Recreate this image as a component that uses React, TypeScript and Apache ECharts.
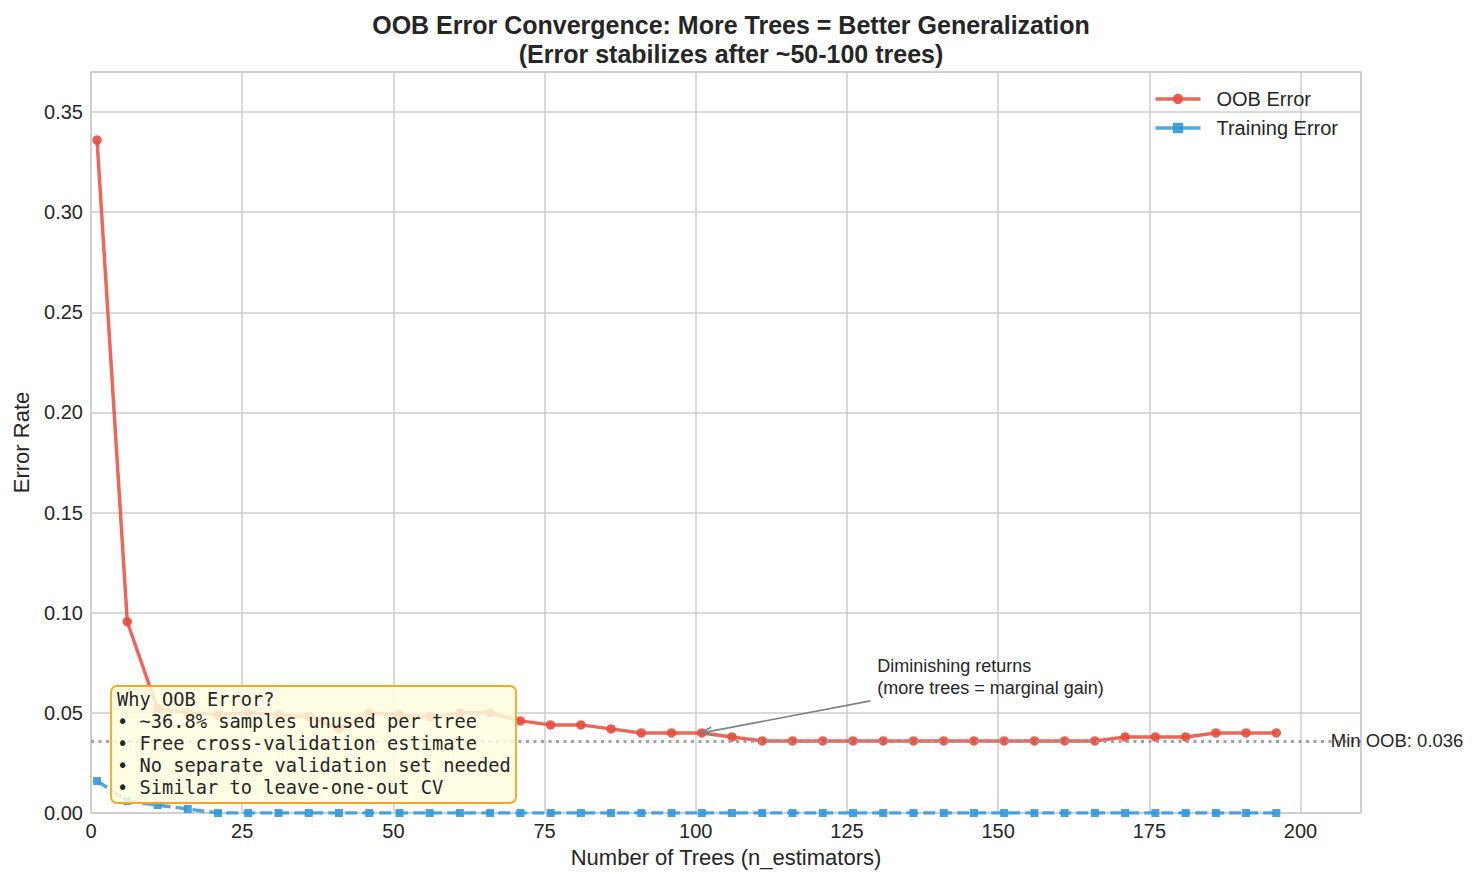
import React, { useEffect, useRef } from "react";
import * as echarts from "echarts";

const treeCounts: number[] = [
  1, 6, 11, 16, 21, 26, 31, 36, 41, 46, 51, 56, 61, 66, 71, 76, 81, 86, 91, 96,
  101, 106, 111, 116, 121, 126, 131, 136, 141, 146, 151, 156, 161, 166, 171, 176, 181, 186, 191, 196,
];
const oobError: number[] = [
  0.336, 0.0955, 0.052, 0.05, 0.049, 0.05, 0.049, 0.048, 0.042, 0.05, 0.049, 0.048, 0.05, 0.05, 0.046,
  0.044, 0.044, 0.042, 0.04, 0.04, 0.04, 0.038, 0.036, 0.036, 0.036, 0.036, 0.036, 0.036, 0.036, 0.036,
  0.036, 0.036, 0.036, 0.036, 0.038, 0.038, 0.038, 0.04, 0.04, 0.04,
];
const trainError: number[] = [
  0.016, 0.006, 0.004, 0.002, 0, 0, 0, 0, 0, 0, 0, 0, 0, 0, 0, 0, 0, 0, 0, 0,
  0, 0, 0, 0, 0, 0, 0, 0, 0, 0, 0, 0, 0, 0, 0, 0, 0, 0, 0, 0,
];
const minOob = 0.036;
const xMin = 0;
const xMax = 210;
const titleLines: string[] = [
  "OOB Error Convergence: More Trees = Better Generalization",
  "(Error stabilizes after ~50-100 trees)",
];
const boxLines: string[] = [
  "Why OOB Error?",
  "• ~36.8% samples unused per tree",
  "• Free cross-validation estimate",
  "• No separate validation set needed",
  "• Similar to leave-one-out CV",
];
const annotText = "Diminishing returns\n(more trees = marginal gain)";
const annotXY: [number, number] = [101, 0.04];
const annotTail: [number, number] = [128.9, 0.056];
const annotTextPos: [number, number] = [130, 0.0678];

const SANS = "'Liberation Sans', Arial, Helvetica, sans-serif";
const MONO = "'DejaVu Sans Mono', monospace";
const INK = "#262626";
const GRIDC = "#cccccc";

export default function App() {
  const ref = useRef<HTMLDivElement>(null);
  useEffect(() => {
    if (!ref.current) return;
    const chart = echarts.init(ref.current, undefined, { renderer: "svg" });
    const oobPts = treeCounts.map((x, i) => [x, oobError[i]]);
    const trPts = treeCounts.map((x, i) => [x, trainError[i]]);
    chart.setOption({
      animation: false,
      backgroundColor: "#ffffff",
      title: {
        text: titleLines.join("\n"),
        left: 726,
        top: 5,
        textAlign: "center",
        textStyle: { fontFamily: SANS, fontSize: 25, fontWeight: "bold", color: INK, lineHeight: 29 },
      },
      grid: {
        left: 91,
        right: 120,
        top: 72,
        bottom: 70,
        show: true,
        borderColor: GRIDC,
        borderWidth: 1.5,
        backgroundColor: "transparent",
      },
      legend: {
        orient: "vertical",
        right: 138,
        top: 84,
        itemGap: 9,
        itemWidth: 45,
        itemHeight: 13,
        lineStyle: { width: 3.5, type: "solid" },
        textStyle: { fontFamily: SANS, fontSize: 20, color: INK, padding: [0, 0, 0, 11] },
        data: ["OOB Error", "Training Error"],
      },
      xAxis: {
        type: "value",
        min: xMin,
        max: xMax,
        interval: 25,
        name: "Number of Trees (n_estimators)",
        nameLocation: "middle",
        nameGap: 33,
        nameTextStyle: { fontFamily: SANS, fontSize: 22, color: INK },
        axisLine: { show: false },
        axisTick: { show: false },
        axisLabel: { fontFamily: SANS, fontSize: 20, color: INK, margin: 8, showMaxLabel: false },
        splitLine: { show: true, lineStyle: { color: GRIDC, width: 1.5 } },
      },
      yAxis: {
        type: "value",
        min: 0,
        max: 0.37,
        interval: 0.05,
        name: "Error Rate",
        nameLocation: "middle",
        nameGap: 59,
        nameTextStyle: { fontFamily: SANS, fontSize: 22, color: INK },
        axisLine: { show: false },
        axisTick: { show: false },
        axisLabel: {
          fontFamily: SANS,
          fontSize: 20,
          color: INK,
          margin: 8,
          showMaxLabel: false,
          formatter: (v: number) => v.toFixed(2),
        },
        splitLine: { show: true, lineStyle: { color: GRIDC, width: 1.5 } },
      },
      series: [
        {
          name: "OOB Error",
          type: "line",
          data: oobPts,
          symbol: "circle",
          symbolSize: 9.5,
          color: "#e74c3c",
          lineStyle: { width: 3.5, opacity: 0.85, color: "#e74c3c" },
          itemStyle: { color: "#e74c3c", opacity: 0.9 },
          z: 3,
          markLine: {
            silent: true,
            symbol: ["none", "none"],
            label: { show: false },
            lineStyle: { type: [3, 4.5], color: "#999999", width: 2.8, opacity: 0.9 },
            data: [[{ coord: [xMin, minOob] }, { coord: [xMax, minOob] }]],
            z: 5,
          },
        },
        {
          name: "Training Error",
          type: "line",
          data: trPts,
          symbol: "rect",
          symbolSize: 8,
          color: "#3498db",
          lineStyle: { width: 3.5, type: [12, 5], opacity: 0.85, color: "#3498db" },
          itemStyle: { color: "#3498db", opacity: 0.9 },
          z: 2,
        },
      ],
    });

    const px = (p: [number, number]) => chart.convertToPixel({ gridIndex: 0 }, p) as number[];
    const head = px(annotXY);
    const tail = px(annotTail);
    const tp = px(annotTextPos);
    const minPos = px([205, minOob]);
    const ang = Math.atan2(tail[1] - head[1], tail[0] - head[0]);
    const hl = 11;
    const spread = 0.38;
    const w1 = [head[0] + hl * Math.cos(ang + spread), head[1] + hl * Math.sin(ang + spread)];
    const w2 = [head[0] + hl * Math.cos(ang - spread), head[1] + hl * Math.sin(ang - spread)];

    chart.setOption({
      graphic: [
        {
          type: "line",
          shape: { x1: tail[0], y1: tail[1], x2: head[0], y2: head[1] },
          style: { stroke: "#808080", lineWidth: 1.6 },
          z: 20,
        },
        {
          type: "polyline",
          shape: { points: [w1, head, w2] },
          style: { stroke: "#808080", lineWidth: 1.6, fill: "none" },
          z: 20,
        },
        {
          type: "text",
          x: tp[0],
          y: tp[1],
          style: {
            text: annotText,
            fontFamily: SANS,
            fontSize: 18,
            lineHeight: 22,
            fill: INK,
            textAlign: "left",
            textVerticalAlign: "middle",
          },
          z: 20,
        },
        {
          type: "text",
          x: minPos[0],
          y: minPos[1],
          style: {
            text: "Min OOB: 0.036",
            fontFamily: SANS,
            fontSize: 18.5,
            fill: INK,
            textAlign: "left",
            textVerticalAlign: "middle",
          },
          z: 20,
        },
        {
          type: "rect",
          shape: { x: 111, y: 686, width: 405, height: 117, r: 6 },
          style: { fill: "rgba(255,253,222,0.85)", stroke: "#f5a623", lineWidth: 1.8 },
          z: 30,
        },
        {
          type: "text",
          x: 117,
          y: 688,
          style: {
            text: boxLines.join("\n"),
            fontFamily: MONO,
            fontSize: 18.7,
            lineHeight: 22,
            fill: INK,
            textAlign: "left",
            textVerticalAlign: "top",
          },
          z: 31,
        },
      ],
    });
    return () => chart.dispose();
  }, []);
  return <div ref={ref} style={{ position: "fixed", left: 0, top: 0, width: 1481, height: 883 }} />;
}
